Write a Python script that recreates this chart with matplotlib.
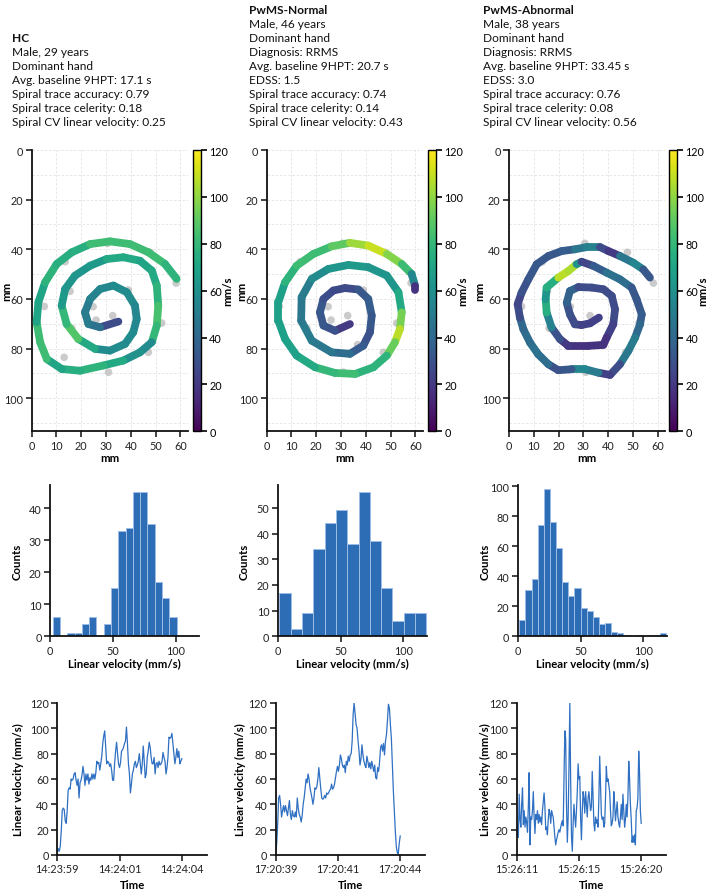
import numpy as np
import matplotlib
matplotlib.use('Agg')
import matplotlib.pyplot as plt
from matplotlib.collections import LineCollection
from matplotlib.colors import Normalize
from matplotlib.cm import ScalarMappable

plt.rcParams['font.family'] = ['Lato', 'DejaVu Sans']

# ---------------- DATA ----------------
hc_info = ["HC", "Male, 29 years", "Dominant hand", "Avg. baseline 9HPT: 17.1 s",
           "Spiral trace accuracy: 0.79", "Spiral trace celerity: 0.18",
           "Spiral CV linear velocity: 0.25"]
pn_info = ["PwMS-Normal", "Male, 46 years", "Dominant hand", "Diagnosis: RRMS",
           "Avg. baseline 9HPT: 20.7 s", "EDSS: 1.5", "Spiral trace accuracy: 0.74",
           "Spiral trace celerity: 0.14", "Spiral CV linear velocity: 0.43"]
pa_info = ["PwMS-Abnormal", "Male, 38 years", "Dominant hand", "Diagnosis: RRMS",
           "Avg. baseline 9HPT: 33.45 s", "EDSS: 3.0", "Spiral trace accuracy: 0.76",
           "Spiral trace celerity: 0.08", "Spiral CV linear velocity: 0.56"]

# reference (template) points, mm
ref_x = [30.6, 13.5, 47.8, 58.3, 15.5, 39.0, 5.1, 26.0, 32.7, 16.2, 52.5, 13.1, 47.1, 31.0, 24.8, 36.7]
ref_y = [37.6, 45.0, 41.2, 53.6, 56.9, 56.4, 63.0, 68.5, 66.7, 71.8, 69.7, 83.5, 81.5, 89.5, 63.1, 78.4]

# HC spiral trace (mm) and linear velocity (mm/s)
hc_x = [35.0, 27.6, 22.9, 21.5, 23.6, 27.6, 33.0, 38.4, 41.7, 42.4, 41.0, 37.7, 31.6, 25.6,
        18.8, 14.1, 12.1, 13.5, 17.5, 23.6, 30.3, 37.0, 43.7, 48.5, 50.5, 51.1, 50.5, 48.5,
        43.7, 37.0, 28.9, 19.5, 12.1, 6.1, 3.4, 2.0, 2.7, 5.4, 10.1, 16.2, 23.6, 31.6, 39.7,
        47.1, 53.8, 58.5]
hc_y = [69.1, 71.4, 70.1, 65.4, 60.0, 56.0, 54.6, 57.3, 62.7, 68.1, 73.4, 78.1, 80.8, 80.1,
        76.1, 70.1, 62.7, 56.0, 50.6, 46.6, 43.9, 43.2, 44.6, 48.6, 54.6, 62.7, 70.7, 77.4,
        81.5, 84.8, 86.8, 88.9, 88.2, 84.2, 77.4, 69.4, 61.3, 53.3, 45.9, 41.2, 37.9, 36.8,
        37.9, 41.2, 45.9, 51.9]
hc_v = [15, 40, 50, 50, 50, 55, 55, 60, 55, 55, 55, 60, 55, 60, 85, 90, 70, 60, 65, 60,
        70, 75, 70, 70, 75, 80, 90, 70, 45, 75, 70, 85, 65, 75, 90, 75, 65, 75, 80, 70, 80,
        85, 80, 85, 80, 75]

# PwMS-Normal spiral
pn_x = [33.6, 27.6, 22.9, 21.5, 22.9, 26.9, 31.6, 37.0, 41.0, 42.4, 41.7, 39.0, 33.6, 26.2,
        18.2, 13.9, 14.1, 18.2, 24.9, 33.0, 41.0, 48.5, 53.2, 54.5, 53.8, 51.8, 48.5, 43.1,
        35.7, 27.6, 19.5, 12.1, 7.4, 4.7, 4.7, 7.4, 12.1, 18.8, 26.2, 33.6, 41.0, 48.5, 54.5,
        58.5, 59.9, 59.9]
pn_y = [70.1, 72.8, 70.7, 65.4, 60.0, 56.6, 55.6, 56.2, 60.0, 66.7, 73.4, 78.8, 82.1, 81.5,
        76.8, 68.7, 59.3, 51.9, 47.9, 46.3, 47.2, 50.6, 57.3, 65.4, 72.1, 77.4, 82.8, 87.5,
        90.2, 89.8, 87.5, 82.8, 76.1, 68.7, 61.3, 53.3, 46.6, 41.9, 38.8, 37.4, 38.5, 41.9,
        45.9, 49.9, 54.6, 56.2]
pn_v = [10, 30, 30, 35, 30, 28, 25, 30, 35, 35, 30, 30, 40, 45, 50, 50, 45, 55, 60, 65,
        65, 60, 65, 80, 110, 105, 80, 75, 80, 85, 75, 70, 65, 70, 65, 70, 85, 80, 85, 95,
        110, 110, 85, 80, 30, 5]

# PwMS-Abnormal spiral
pa_x = [36.3, 32.7, 29.3, 26.6, 24.6, 23.3, 24.6, 28.0, 33.4, 38.1, 41.5, 42.8, 42.1, 39.4,
        38.1, 32.0, 24.0, 20.6, 17.2, 15.2, 14.8, 15.2, 19.9, 24.0, 27.3, 29.3, 34.1, 39.4,
        44.8, 49.5, 51.5, 53.6, 52.9, 50.9, 48.2, 44.8, 40.8, 36.1, 30.7, 25.3, 19.9, 15.9,
        11.8, 8.5, 5.8, 4.4, 3.5, 5.1, 7.8, 11.2, 15.9, 21.3, 26.6, 31.4, 36.7, 40.1, 44.8,
        50.2, 54.2, 56.9]
pa_y = [67.5, 69.8, 70.5, 70.2, 66.2, 61.5, 56.8, 55.2, 55.4, 56.1, 58.8, 64.2, 70.2, 75.6,
        78.5, 78.9, 78.9, 76.2, 71.5, 65.5, 60.1, 55.4, 51.4, 48.7, 46.0, 45.0, 46.7, 49.4,
        52.1, 55.4, 60.1, 66.2, 70.2, 75.6, 80.9, 86.3, 90.6, 89.7, 88.3, 88.3, 88.7, 86.3,
        82.3, 77.6, 72.2, 67.5, 62.1, 57.4, 52.1, 46.0, 42.7, 40.7, 40.0, 39.1, 39.1, 40.7,
        42.7, 45.4, 48.1, 51.4]
pa_v = [20, 25, 20, 25, 30, 30, 45, 30, 25, 30, 25, 30, 25, 20, 15, 20, 15, 25, 35, 70,
        80, 45, 105, 110, 100, 20, 30, 40, 50, 35, 30, 35, 35, 45, 55, 40, 15, 30, 70, 40,
        25, 35, 50, 40, 45, 35, 20, 30, 30, 35, 30, 35, 35, 60, 45, 10, 30, 65, 45, 20]

# Histograms: bin range and counts
hc_bins = (2.1, 100.7)
hc_counts = [6, 0, 1, 1, 4, 6, 0, 4, 15, 33, 34, 45, 45, 35, 17, 12, 6]
pn_bins = (1.3, 118.3)
pn_counts = [17, 3, 9, 34, 44, 49, 36, 56, 37, 19, 6, 9, 9]
pa_bins = (1.3, 118.2)
pa_counts = [11, 31, 38, 74, 98, 76, 59, 36, 27, 32, 19, 17, 13, 8, 9, 3, 2, 1, 0, 1, 0, 1, 1, 2]

# Linear velocity time series (mm/s), uniformly sampled
hc_duration = 4.7
hc_ticklabels = ["14:23:59", "14:24:01", "14:24:04"]
hc_vel = [2, 5, 3, 7, 19, 35, 37, 36, 27, 25, 35, 51, 53, 52, 60, 59, 60, 64, 65, 59, 55, 60,
          45, 57, 59, 63, 70, 64, 55, 64, 59, 64, 56, 61, 59, 64, 60, 64, 60, 65, 74, 72, 73,
          67, 72, 78, 88, 94, 98, 85, 72, 74, 73, 70, 72, 67, 59, 59, 72, 82, 89, 80, 72, 69,
          73, 82, 83, 85, 88, 90, 101, 88, 72, 64, 49, 56, 64, 67, 72, 74, 69, 71, 74, 80, 72,
          64, 72, 86, 74, 61, 64, 77, 82, 89, 85, 77, 72, 72, 77, 64, 72, 73, 69, 74, 71, 72,
          74, 81, 77, 74, 64, 69, 77, 93, 92, 93, 96, 88, 80, 72, 77, 84, 77, 82, 72, 74, 76]

pn_duration = 4.8
pn_ticklabels = ["17:20:39", "17:20:41", "17:20:44"]
pn_vel = [1, 9, 24, 45, 47, 40, 30, 35, 39, 34, 39, 35, 31, 37, 43, 32, 28, 35, 31, 30, 34,
          30, 45, 37, 32, 30, 26, 31, 40, 45, 52, 60, 57, 64, 60, 53, 49, 45, 40, 45, 53, 52,
          54, 60, 69, 60, 52, 45, 44, 45, 47, 45, 49, 48, 49, 51, 52, 56, 52, 53, 56, 61, 66,
          70, 66, 71, 79, 76, 71, 69, 71, 65, 74, 71, 78, 74, 79, 80, 90, 111, 120, 111, 103,
          100, 90, 82, 71, 76, 87, 79, 74, 71, 69, 78, 74, 69, 73, 68, 74, 70, 66, 71, 61, 60,
          69, 66, 74, 85, 87, 82, 88, 79, 90, 95, 106, 119, 116, 103, 92, 71, 51, 35, 19, 7,
          2, 1, 9, 15]

pa_duration = 9.0
pa_ticklabels = ["15:26:11", "15:26:15", "15:26:20"]
pa_vel = [16, 24, 14, 48, 28, 22, 40, 53, 24, 35, 22, 30, 26, 18, 38, 65, 8, 30, 28, 35, 50,
          30, 17, 32, 28, 35, 25, 32, 26, 30, 24, 35, 42, 49, 38, 20, 22, 16, 28, 36, 33, 25,
          35, 32, 30, 22, 14, 8, 12, 15, 18, 20, 18, 22, 25, 27, 23, 60, 98, 92, 40, 10, 30,
          70, 120, 60, 15, 3, 25, 40, 30, 22, 35, 50, 72, 60, 62, 30, 12, 35, 50, 45, 33, 50,
          40, 30, 45, 50, 42, 35, 38, 66, 45, 25, 19, 30, 25, 28, 22, 45, 78, 55, 32, 28, 30,
          22, 25, 45, 70, 58, 60, 55, 50, 35, 23, 25, 30, 50, 40, 27, 35, 42, 30, 25, 22, 30,
          40, 28, 48, 35, 22, 28, 40, 30, 45, 74, 60, 40, 28, 10, 15, 10, 16, 8, 35, 37, 45,
          82, 65, 35, 25]

# ---------------- LAYOUT ----------------
W, H = 709, 895
fig = plt.figure(figsize=(W / 100, H / 100), dpi=100)


def box(left, top, width, height):
    return [left / W, 1 - (top + height) / H, width / W, height / H]


TICK_FS = 7.8
LAB_FS = 8.2
HEAD_FS = 8.6
BAR_COLOR = '#2c6db6'
LINE_COLOR = '#2f70c2'
norm = Normalize(0, 120)


def style_axes(ax):
    for s in ['top', 'right']:
        ax.spines[s].set_visible(False)
    for s in ['left', 'bottom']:
        ax.spines[s].set_linewidth(1.3)
        ax.spines[s].set_color('#111111')
    ax.tick_params(direction='out', length=4, width=1.2, labelsize=TICK_FS, pad=2,
                   colors='#222222')


def place_ylabel(ax, text, xpx, left, width):
    ax.set_ylabel(text, fontsize=LAB_FS, fontweight='bold')
    ax.yaxis.label.set_verticalalignment('center')
    ax.yaxis.set_label_coords((xpx - left) / width, 0.5)


def place_xlabel(ax, text, ypx, bottom, height):
    ax.set_xlabel(text, fontsize=LAB_FS, fontweight='bold')
    ax.xaxis.label.set_verticalalignment('center')
    ax.xaxis.set_label_coords(0.5, -(ypx - bottom) / height)


# Header text
head_cols = [(12, hc_info, 2), (249, pn_info, 0), (483, pa_info, 0)]
for xpx, lines, offset in head_cols:
    for i, line in enumerate(lines):
        ypx = 10 + (i + offset) * 14
        fig.text(xpx / W, 1 - ypx / H, line, fontsize=HEAD_FS, va='center', ha='left',
                 fontweight='bold' if i == 0 else 'normal', color='#111111')

# Spiral panels
SP_TOP, SP_W, SP_H = 151.0, 156.05, 281.3
spirals = [(hc_x, hc_y, hc_v, 31.7, 192.7, 228, 7),
           (pn_x, pn_y, pn_v, 266.7, 427.7, 463, 242),
           (pa_x, pa_y, pa_v, 509.0, 669.0, 703, 480)]
for sx, sy, sv, left, cbleft, cblabx, ylabx in spirals:
    ax = fig.add_axes(box(left, SP_TOP, SP_W, SP_H))
    ax.set_xlim(0, 63)
    ax.set_ylim(113.3, 0)
    ax.set_xticks(np.arange(0, 61, 10))
    ax.set_yticks(np.arange(0, 101, 20))
    ax.set_yticks(np.arange(0, 111, 10), minor=True)
    ax.set_xticks(np.arange(0, 61, 10), minor=True)
    ax.tick_params(which='minor', length=0)
    ax.grid(which='both', color='#e3e3e3', linestyle=(0, (3, 2)), linewidth=0.6)
    ax.set_axisbelow(True)
    style_axes(ax)
    ax.scatter(ref_x, ref_y, s=30, color='#b5b5b5', alpha=0.7, edgecolors='none', zorder=2)
    pts = np.column_stack([sx, sy])
    segs = np.stack([pts[:-1], pts[1:]], axis=1)
    vv = np.asarray(sv, dtype=float)
    lc = LineCollection(segs, cmap='viridis', norm=norm, linewidths=5.6,
                        capstyle='round', joinstyle='round', zorder=3)
    lc.set_array((vv[:-1] + vv[1:]) / 2)
    ax.add_collection(lc)
    place_xlabel(ax, 'mm', 459, SP_TOP + SP_H, SP_H)
    place_ylabel(ax, 'mm', ylabx, left, SP_W)

    cax = fig.add_axes(box(cbleft, SP_TOP, 8.3, SP_H))
    cb = fig.colorbar(ScalarMappable(norm=norm, cmap='viridis'), cax=cax)
    cb.set_ticks(np.arange(0, 121, 20))
    cb.outline.set_linewidth(1.0)
    cax.tick_params(direction='out', length=4, width=1.2, labelsize=TICK_FS, pad=2)
    cax.text((cblabx - cbleft) / 8.3, 0.5, 'mm/s', transform=cax.transAxes, rotation=90,
             fontsize=LAB_FS, fontweight='bold', ha='center', va='center')

# Histogram panels
HI_TOP, HI_W, HI_H = 486.3, 149.3, 151.0
hists = [(hc_bins, hc_counts, 50.0, 47.25, 10, 17),
         (pn_bins, pn_counts, 277.7, 58.8, 10, 244),
         (pa_bins, pa_counts, 517.7, 100.8, 20, 485)]
for (b0, b1), counts, left, ytop, ystep, ylabx in hists:
    ax = fig.add_axes(box(left, HI_TOP, HI_W, HI_H))
    edges = np.linspace(b0, b1, len(counts) + 1)
    ax.bar(edges[:-1], counts, width=np.diff(edges), align='edge', color=BAR_COLOR,
           edgecolor='#9dbde6', linewidth=0.7)
    ax.set_xlim(0, 118.8)
    ax.set_ylim(0, ytop)
    ax.set_xticks([0, 50, 100])
    ax.set_yticks(np.arange(0, ytop, ystep))
    style_axes(ax)
    place_xlabel(ax, 'Linear velocity (mm/s)', 664, HI_TOP + HI_H, HI_H)
    place_ylabel(ax, 'Counts', ylabx, left, HI_W)

# Time-series panels
TS_TOP, TS_W, TS_H = 704.0, 149.4, 152.0
series = [(hc_vel, hc_duration, hc_ticklabels, 57.3, 18),
          (pn_vel, pn_duration, pn_ticklabels, 275.7, 240),
          (pa_vel, pa_duration, pa_ticklabels, 516.7, 485)]
for vel, dur, labels, left, ylabx in series:
    ax = fig.add_axes(box(left, TS_TOP, TS_W, TS_H))
    t = np.linspace(0, dur, len(vel))
    ax.plot(t, vel, color=LINE_COLOR, linewidth=0.9)
    ax.set_xlim(0, dur * 1.2)
    ax.set_ylim(0, 120)
    ax.set_xticks([0, dur / 2, dur])
    ax.set_xticklabels(labels)
    ax.set_yticks(np.arange(0, 121, 20))
    style_axes(ax)
    place_xlabel(ax, 'Time', 886, TS_TOP + TS_H, TS_H)
    place_ylabel(ax, 'Linear velocity (mm/s)', ylabx, left, TS_W)

fig.savefig('out.png', dpi=100)
